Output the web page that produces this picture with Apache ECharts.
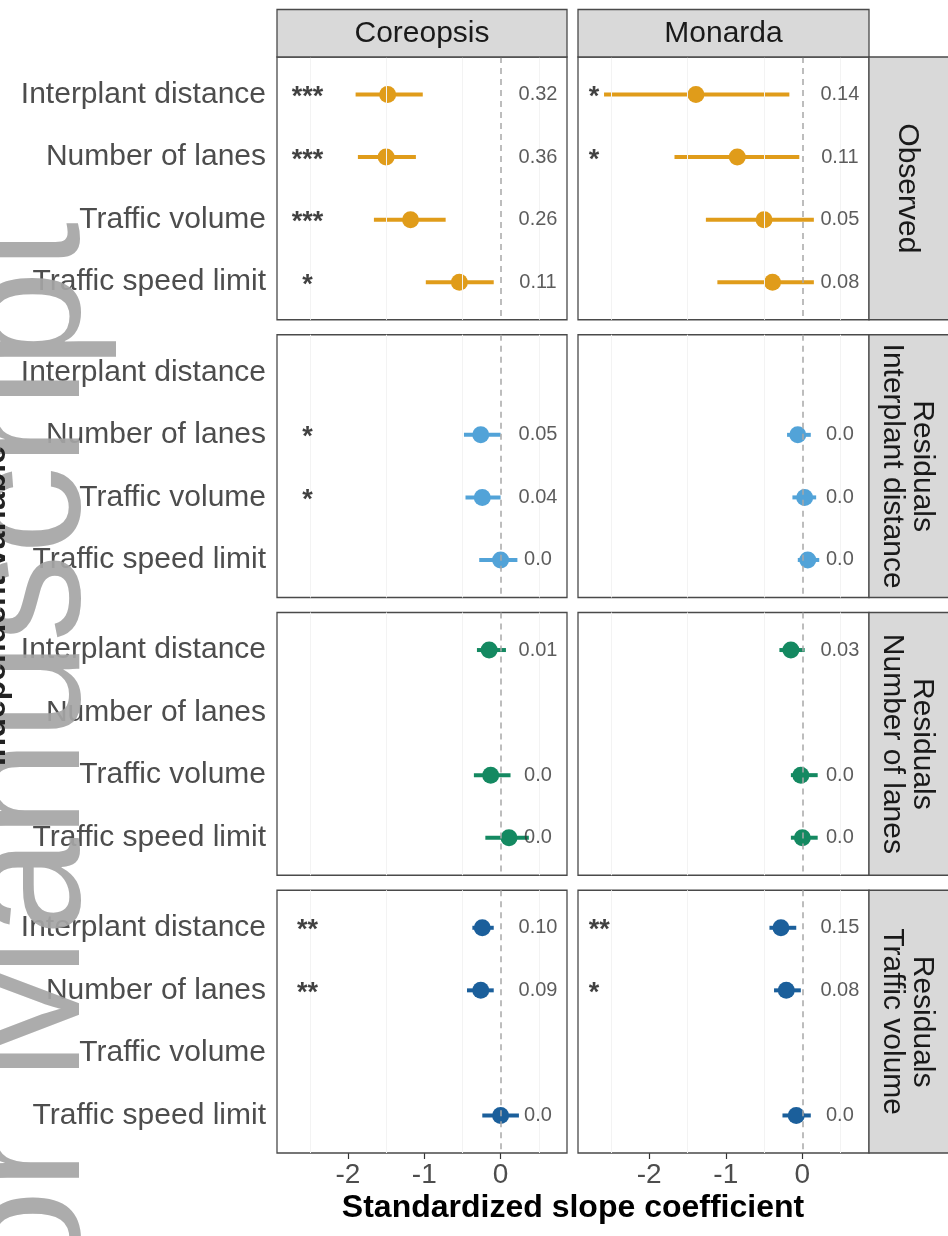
<!DOCTYPE html>
<html><head><meta charset="utf-8">
<script src="https://cdn.jsdelivr.net/npm/echarts@6/dist/echarts.min.js"></script>
<style>html,body{margin:0;padding:0;background:#fff}#c{width:948px;height:1236px}</style>
</head><body><div id="c"></div>
<script>
// ---------- data ----------
const predictors = ['Interplant distance', 'Number of lanes', 'Traffic volume', 'Traffic speed limit'];
const species = ['Coreopsis', 'Monarda'];
const responses = ['Observed', 'Residuals\nInterplant distance', 'Residuals\nNumber of lanes', 'Residuals\nTraffic volume'];
const xTickValues = [-2, -1, 0];
const xMinorBreaks = [-2.5, -1.5, -0.5, 0.5];

// rows = response panels, columns = predictors
const estCoreopsis = [[-1.48, -1.50, -1.18, -0.54], [null, -0.26, -0.24, 0.00], [-0.15, null, -0.13, 0.11], [-0.24, -0.26, null, 0.00]];
const loCoreopsis  = [[-1.90, -1.87, -1.66, -0.98], [null, -0.48, -0.46, -0.28], [-0.31, null, -0.35, -0.20], [-0.37, -0.44, null, -0.24]];
const hiCoreopsis  = [[-1.02, -1.11, -0.72, -0.09], [null, 0.00, 0.00, 0.22], [0.07, null, 0.13, 0.37], [-0.09, -0.09, null, 0.24]];
const starsCoreopsis = [['***', '***', '***', '*'], ['', '*', '*', ''], ['', '', '', ''], ['**', '**', '', '']];
const r2Coreopsis = [['0.32', '0.36', '0.26', '0.11'], ['', '0.05', '0.04', '0.0'], ['0.01', '', '0.0', '0.0'], ['0.10', '0.09', '', '0.0']];

const estMonarda = [[-1.39, -0.85, -0.50, -0.39], [null, -0.06, 0.03, 0.07], [-0.15, null, -0.02, 0.00], [-0.28, -0.21, null, -0.08]];
const loMonarda  = [[-2.59, -1.67, -1.26, -1.11], [null, -0.20, -0.13, -0.06], [-0.30, null, -0.15, -0.15], [-0.43, -0.37, null, -0.26]];
const hiMonarda  = [[-0.17, -0.04, 0.15, 0.15], [null, 0.11, 0.18, 0.22], [0.03, null, 0.20, 0.20], [-0.08, -0.02, null, 0.11]];
const starsMonarda = [['*', '*', '', ''], ['', '', '', ''], ['', '', '', ''], ['**', '*', '', '']];
const r2Monarda = [['0.14', '0.11', '0.05', '0.08'], ['', '0.0', '0.0', '0.0'], ['0.03', '', '0.0', '0.0'], ['0.15', '0.08', '', '0.0']];

// ---------- layout ----------
const colors = ['#E09C1A', '#52A3D8', '#148961', '#1B5F9B'];
const est = [estCoreopsis, estMonarda], lo = [loCoreopsis, loMonarda], hi = [hiCoreopsis, hiMonarda];
const stars = [starsCoreopsis, starsMonarda], r2 = [r2Coreopsis, r2Monarda];
const colLeft = [277, 578], colW = [290, 291];
const rowTop = [57, 334.75, 612.5, 890.25], rowH = 262.75;
const XMIN = -2.93, XMAX = 0.87;
const starX = [-2.53, -2.79], starAlign = ['center', 'left'];
const labelX = 0.49;
const FONT = "'Liberation Sans', Arial, sans-serif";

const grid = [], xAxis = [], yAxis = [], series = [], graphic = [];
for (let r = 0; r < 4; r++) {
  for (let c = 0; c < 2; c++) {
    const g = grid.length;
    grid.push({left: colLeft[c], top: rowTop[r], width: colW[c], height: rowH, show: true,
      borderColor: '#4a4a4a', borderWidth: 1.3, backgroundColor: '#fff', containLabel: false, z: 2});
    xAxis.push({type: 'value', gridIndex: g, min: XMIN, max: XMAX,
      axisLine: {show: false},
      axisTick: {show: r === 3, customValues: xTickValues, length: 6, lineStyle: {color: '#333', width: 1.2}},
      axisLabel: {show: r === 3, customValues: xTickValues, color: '#4D4D4D', fontSize: 28, fontFamily: FONT, margin: 8,
        formatter: v => String(v)},
      splitLine: {show: true, lineStyle: {color: '#EBEBEB', width: 1.2}}});
    yAxis.push({type: 'value', gridIndex: g, min: 0.4, max: 4.6, inverse: true,
      axisLine: {show: false},
      axisTick: {show: c === 0, customValues: [1, 2, 3, 4], length: 7, lineStyle: {color: '#333', width: 1.2}},
      axisLabel: {show: c === 0, customValues: [1, 2, 3, 4], color: '#4D4D4D', fontSize: 30, fontFamily: FONT, margin: 11,
        formatter: v => predictors[Math.round(v) - 1] || ''},
      splitLine: {show: true, lineStyle: {color: '#EBEBEB', width: 1.2}}});

    // minor grid + zero reference
    series.push({type: 'scatter', xAxisIndex: g, yAxisIndex: g, data: [], silent: true, z: 1,
      markLine: {silent: true, symbol: 'none', label: {show: false}, animation: false,
        data: xMinorBreaks.map(v => ({xAxis: v, lineStyle: {color: '#F3F3F3', width: 1, type: 'solid'}}))
          .concat([{xAxis: 0, lineStyle: {color: '#A8A8A8', width: 1.5, type: [6, 5]}}])}});

    const bars = [], pts = [], st = [], lab = [];
    for (let i = 0; i < 4; i++) {
      const e = est[c][r][i];
      if (e !== null) {
        bars.push([lo[c][r][i], hi[c][r][i], i + 1]);
        pts.push([e, i + 1]);
      }
      if (stars[c][r][i]) st.push([starX[c], i + 1, stars[c][r][i]]);
      if (r2[c][r][i]) lab.push([labelX, i + 1, r2[c][r][i]]);
    }
    const col = colors[r];
    series.push({type: 'custom', xAxisIndex: g, yAxisIndex: g, z: 3, silent: true, data: bars,
      encode: {x: [0, 1], y: 2},
      renderItem: (params, api) => {
        const a = api.coord([api.value(0), api.value(2)]);
        const b = api.coord([api.value(1), api.value(2)]);
        return {type: 'line', shape: {x1: a[0], y1: a[1], x2: b[0], y2: b[1]},
          style: {stroke: col, lineWidth: 4, lineCap: 'butt'}};
      }});
    series.push({type: 'scatter', xAxisIndex: g, yAxisIndex: g, z: 4, silent: true, data: pts,
      symbol: 'circle', symbolSize: 17, itemStyle: {color: col, opacity: 1}});
    series.push({type: 'scatter', xAxisIndex: g, yAxisIndex: g, z: 5, silent: true, data: st,
      symbolSize: 0, label: {show: true, position: 'inside', align: starAlign[c], verticalAlign: 'middle',
        offset: [0, 3], formatter: p => p.data[2], color: '#111', fontSize: 27, fontWeight: 'bold', fontFamily: FONT}});
    series.push({type: 'scatter', xAxisIndex: g, yAxisIndex: g, z: 5, silent: true, data: lab,
      symbolSize: 0, label: {show: true, position: 'inside', align: 'center', verticalAlign: 'middle',
        formatter: p => p.data[2], color: '#333', fontSize: 20, fontFamily: FONT}});
  }
}

// strips
for (let c = 0; c < 2; c++) {
  graphic.push({type: 'rect', shape: {x: colLeft[c], y: 9.5, width: colW[c], height: 47.5},
    style: {fill: '#D9D9D9', stroke: '#4a4a4a', lineWidth: 1.3}, z: 10});
  graphic.push({type: 'text', x: colLeft[c] + colW[c] / 2, y: 34, z: 11,
    style: {text: species[c], font: '30px ' + FONT, fill: '#1A1A1A', align: 'center', verticalAlign: 'middle'}});
}
for (let r = 0; r < 4; r++) {
  graphic.push({type: 'rect', shape: {x: 869, y: rowTop[r], width: 90, height: rowH},
    style: {fill: '#D9D9D9', stroke: '#4a4a4a', lineWidth: 1.3}, z: 10});
  graphic.push({type: 'text', x: 907, y: rowTop[r] + rowH / 2, rotation: -Math.PI / 2, z: 11,
    style: {text: responses[r], font: '30px ' + FONT, lineHeight: 30, fill: '#1A1A1A', align: 'center', verticalAlign: 'middle'}});
}
// x-axis title
graphic.push({type: 'text', x: 573, y: 1208, z: 11,
  style: {text: 'Standardized slope coefficient', font: 'bold 32px ' + FONT, fill: '#000', align: 'center', verticalAlign: 'middle'}});
// watermark of the source document, drawn over the left margin
graphic.push({type: 'text', x: 118, y: 1650, rotation: Math.PI / 2, z: 100, silent: true,
  style: {text: 'Author Manuscript', font: '176px ' + FONT, fill: 'rgba(165,165,165,0.92)', align: 'left', verticalAlign: 'bottom'}});
// y-axis title, almost entirely cut off at the left edge
graphic.push({type: 'text', x: -4, y: 606, rotation: Math.PI / 2, z: 101,
  style: {text: 'Independent variable', font: 'bold 32px ' + FONT, fill: '#222', align: 'center', verticalAlign: 'middle'}});

const chart = echarts.init(document.getElementById('c'));
chart.setOption({backgroundColor: '#fff', animation: false, grid, xAxis, yAxis, series, graphic});
</script></body></html>
